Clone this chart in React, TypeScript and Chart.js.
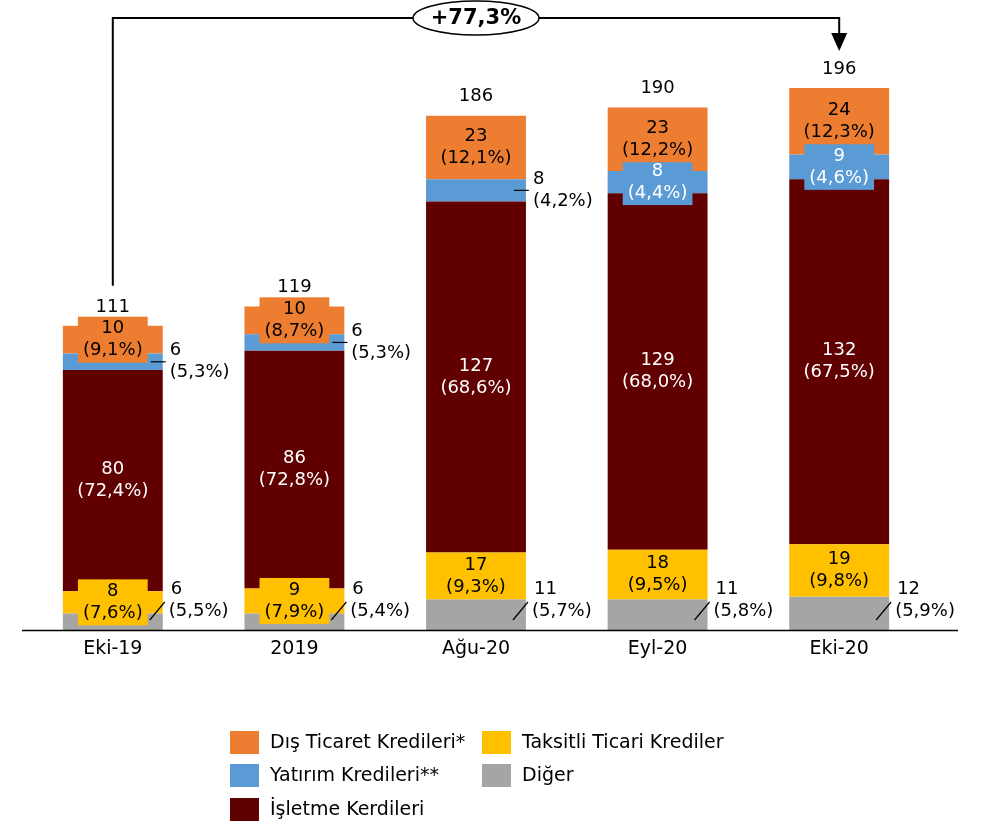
import React, { useEffect, useRef } from 'react';
import { Chart, registerables } from 'chart.js';

Chart.register(...registerables);

const categories = ['Eki-19', '2019', 'Ağu-20', 'Eyl-20', 'Eki-20'];
const digerValues = [6, 6, 11, 11, 12];
const taksitliValues = [8, 9, 17, 18, 19];
const isletmeValues = [80, 86, 127, 129, 132];
const yatirimValues = [6, 6, 8, 8, 9];
const disTicaretValues = [10, 10, 23, 23, 24];
const totals = [111, 119, 186, 190, 196];

const digerPct = ['5,5', '5,4', '5,7', '5,8', '5,9'];
const taksitliPct = ['7,6', '7,9', '9,3', '9,5', '9,8'];
const isletmePct = ['72,4', '72,8', '68,6', '68,0', '67,5'];
const yatirimPct = ['5,3', '5,3', '4,2', '4,4', '4,6'];
const disTicaretPct = ['9,1', '8,7', '12,1', '12,2', '12,3'];
const yatirimInside = [false, false, false, true, true];

const growthLabel = '+77,3%';

const COLORS = {
  dis: '#ED7D31',
  yat: '#5B9BD5',
  isl: '#600000',
  tak: '#FFC000',
  dig: '#A5A5A5',
};

const FONT = '"DejaVu Sans", sans-serif';

const overlayPlugin = {
  id: 'overlay',
  afterDatasetsDraw(chart: any) {
    const ctx = chart.ctx as CanvasRenderingContext2D;
    const ds = chart.data.datasets;
    ctx.save();
    ctx.font = `18px ${FONT}`;
    const boxes: any[] = [];
    const externals: any[] = [];
    ds.forEach((d: any, di: number) => {
      const meta = chart.getDatasetMeta(di);
      meta.data.forEach((bar: any, i: number) => {
        const val = d.data[i];
        const pct = d.pcts[i];
        const cy = (bar.y + bar.base) / 2;
        const right = bar.x + bar.width / 2;
        let inside = true;
        let kind = '';
        if (d.key === 'dig') { inside = false; kind = 'slant'; }
        if (d.key === 'yat' && !yatirimInside[i]) { inside = false; kind = 'flat'; }
        const l1 = String(val);
        const l2 = `(${pct}%)`;
        if (inside) {
          const w = Math.max(ctx.measureText(l1).width, ctx.measureText(l2).width) + 10;
          boxes.push({ x: bar.x, cy, w, color: d.backgroundColor, text: d.textColor, l1, l2 });
        } else {
          externals.push({ kind, right, cy, l1, l2, base: bar.base });
        }
      });
    });
    boxes.forEach((b) => {
      ctx.fillStyle = b.color;
      ctx.fillRect(b.x - b.w / 2, b.cy - 23, b.w, 46);
    });
    ctx.textAlign = 'center';
    ctx.textBaseline = 'middle';
    boxes.forEach((b) => {
      ctx.fillStyle = b.text;
      ctx.fillText(b.l1, b.x, b.cy - 11);
      ctx.fillText(b.l2, b.x, b.cy + 11);
    });
    ctx.textAlign = 'left';
    ctx.strokeStyle = '#000';
    ctx.lineWidth = 1.2;
    externals.forEach((e) => {
      ctx.beginPath();
      if (e.kind === 'flat') {
        ctx.moveTo(e.right - 12, e.cy);
        ctx.lineTo(e.right + 3, e.cy);
        ctx.stroke();
        ctx.fillStyle = '#000';
        ctx.fillText(e.l1, e.right + 7, e.cy - 11);
        ctx.fillText(e.l2, e.right + 7, e.cy + 11);
      } else {
        const by = e.base;
        ctx.moveTo(e.right - 13, by - 10);
        ctx.lineTo(e.right + 2, by - 28);
        ctx.stroke();
        ctx.fillStyle = '#000';
        ctx.fillText(e.l1, e.right + 8, by - 41);
        ctx.fillText(e.l2, e.right + 6, by - 19);
      }
    });
    // totals
    ctx.textAlign = 'center';
    ctx.fillStyle = '#000';
    const topMeta = chart.getDatasetMeta(ds.length - 1);
    topMeta.data.forEach((bar: any, i: number) => {
      ctx.fillText(String(totals[i]), bar.x, bar.y - 19);
    });
    // x axis
    const area = chart.chartArea;
    ctx.beginPath();
    ctx.lineWidth = 1.6;
    ctx.moveTo(22, area.bottom + 0.5);
    ctx.lineTo(958, area.bottom + 0.5);
    ctx.stroke();
    ctx.font = `19px ${FONT}`;
    topMeta.data.forEach((bar: any, i: number) => {
      ctx.fillText(categories[i], bar.x, area.bottom + 19);
    });
    // growth arrow
    const first = topMeta.data[0];
    const last = topMeta.data[topMeta.data.length - 1];
    const lineY = 18;
    ctx.lineWidth = 2;
    ctx.beginPath();
    ctx.moveTo(first.x, first.y - 40);
    ctx.lineTo(first.x, lineY);
    ctx.lineTo(last.x, lineY);
    ctx.lineTo(last.x, 34);
    ctx.stroke();
    ctx.fillStyle = '#000';
    ctx.beginPath();
    ctx.moveTo(last.x - 8, 33);
    ctx.lineTo(last.x + 8, 33);
    ctx.lineTo(last.x, 51);
    ctx.closePath();
    ctx.fill();
    const ex = (first.x + last.x) / 2;
    ctx.beginPath();
    ctx.ellipse(ex, lineY, 63, 17, 0, 0, Math.PI * 2);
    ctx.fillStyle = '#fff';
    ctx.fill();
    ctx.lineWidth = 1.5;
    ctx.stroke();
    ctx.fillStyle = '#000';
    ctx.font = `bold 21px ${FONT}`;
    ctx.fillText(growthLabel, ex, lineY + 1);
    // legend
    ctx.font = `19px ${FONT}`;
    ctx.textAlign = 'left';
    const legendItems = [
      { label: 'Dış Ticaret Kredileri*', color: COLORS.dis, x: 230, y: 742 },
      { label: 'Yatırım Kredileri**', color: COLORS.yat, x: 230, y: 775 },
      { label: 'İşletme Kerdileri', color: COLORS.isl, x: 230, y: 809 },
      { label: 'Taksitli Ticari Krediler', color: COLORS.tak, x: 482, y: 742 },
      { label: 'Diğer', color: COLORS.dig, x: 482, y: 775 },
    ];
    legendItems.forEach((it) => {
      ctx.fillStyle = it.color;
      ctx.fillRect(it.x, it.y - 11, 29, 23);
      ctx.fillStyle = '#000';
      ctx.fillText(it.label, it.x + 40, it.y + 1);
    });
    ctx.restore();
  },
};

export default function App() {
  const ref = useRef<HTMLCanvasElement>(null);
  useEffect(() => {
    if (!ref.current) return;
    const mk = (key: string, label: string, data: number[], pcts: string[], color: string, textColor: string) => ({
      key, label, data, pcts, backgroundColor: color, textColor, borderWidth: 0,
      barPercentage: 0.55, categoryPercentage: 1,
    });
    const chart = new Chart(ref.current, {
      type: 'bar',
      data: {
        labels: categories,
        datasets: [
          mk('dig', 'Diğer', digerValues, digerPct, COLORS.dig, '#000'),
          mk('tak', 'Taksitli Ticari Krediler', taksitliValues, taksitliPct, COLORS.tak, '#000'),
          mk('isl', 'İşletme Kerdileri', isletmeValues, isletmePct, COLORS.isl, '#fff'),
          mk('yat', 'Yatırım Kredileri**', yatirimValues, yatirimPct, COLORS.yat, '#fff'),
          mk('dis', 'Dış Ticaret Kredileri*', disTicaretValues, disTicaretPct, COLORS.dis, '#000'),
        ] as any,
      },
      options: {
        responsive: false,
        animation: false,
        layout: { padding: { left: 22, right: 54, top: 77, bottom: 193 } },
        plugins: { legend: { display: false }, tooltip: { enabled: false } },
        scales: {
          x: { stacked: true, display: false },
          y: { stacked: true, display: false, min: 0, max: 200 },
        },
      },
      plugins: [overlayPlugin],
    });
    return () => chart.destroy();
  }, []);
  return (
    <div style={{ position: 'fixed', left: 0, top: 0, width: 984, height: 823, background: '#fff' }}>
      <canvas ref={ref} width={984} height={823} />
    </div>
  );
}
